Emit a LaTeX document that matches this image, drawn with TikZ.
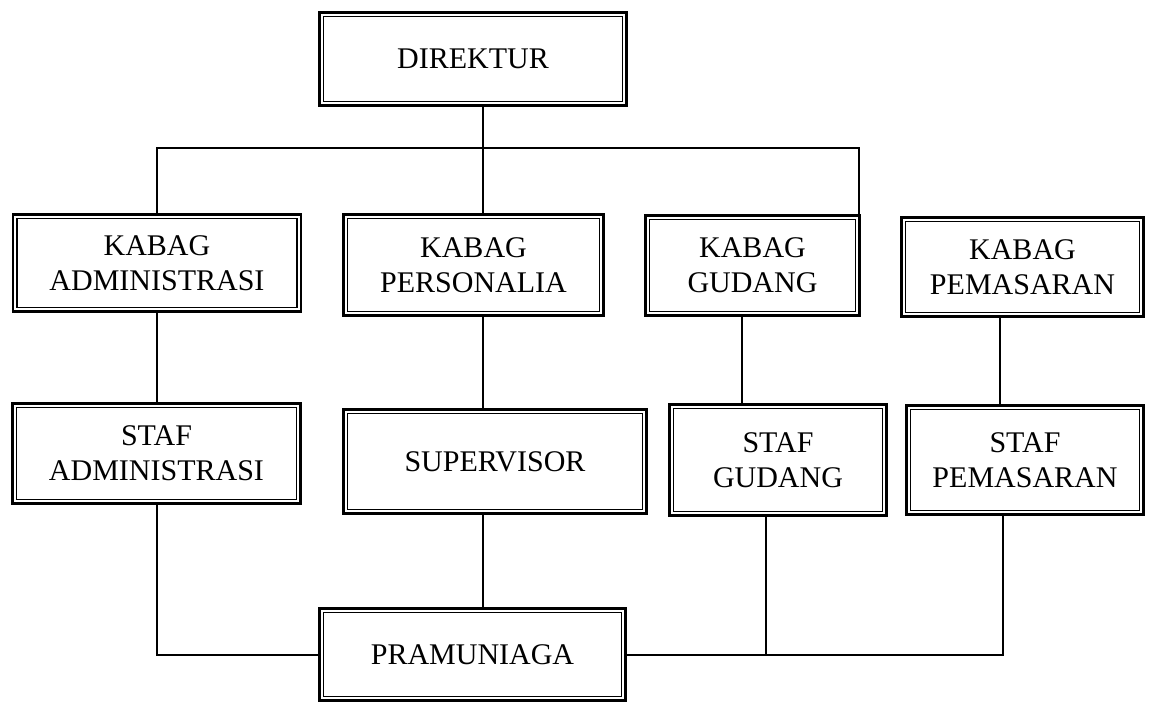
\documentclass[tikz,border=0pt]{standalone}
\usepackage{fontspec}
\setmainfont{Liberation Serif}
\begin{document}
\begin{tikzpicture}[
    x=0.4pt,y=-0.4pt,
    box/.style={draw, line width=1.1pt, inner sep=0pt, align=center,
      font=\fontsize{12}{14}\selectfont},
    link/.style={line width=0.8pt}
    ]
    \useasboundingbox (0, 0) rectangle (1152, 704);
    \node[box, minimum width=122.8pt, minimum height=37.2pt] (dir) at (473, 59) {DIREKTUR};
    \node[box, minimum width=115.2pt, minimum height=38.8pt] (kadm) at (157, 263) {KABAG\\ADMINISTRASI};
    \node[box, minimum width=104pt, minimum height=40.4pt] (kpers) at (473.5, 265) {KABAG\\PERSONALIA};
    \node[box, minimum width=85.6pt, minimum height=40pt] (kgud) at (752.5, 265.5) {KABAG\\GUDANG};
    \node[box, minimum width=96.8pt, minimum height=39.6pt] (kpem) at (1022.5, 267) {KABAG\\PEMASARAN};
    \node[box, minimum width=115.2pt, minimum height=40pt] (sadm) at (156.5, 453.5) {STAF\\ADMINISTRASI};
    \node[box, minimum width=121.2pt, minimum height=41.6pt] (sup) at (495, 461.5) {SUPERVISOR};
    \node[box, minimum width=86.8pt, minimum height=44.4pt] (sgud) at (778, 460) {STAF\\GUDANG};
    \node[box, minimum width=94.8pt, minimum height=43.6pt] (spem) at (1025, 460) {STAF\\PEMASARAN};
    \node[box, minimum width=122.4pt, minimum height=36.8pt] (pram) at (472.5, 654.5) {PRAMUNIAGA};
    \foreach \n in {dir, kadm, kpers, kgud, kpem, sadm, sup, sgud, spem, pram}
      \draw[line width=0.5pt] ([shift={(2.2pt,2.2pt)}]\n.south west) rectangle ([shift={(-2.2pt,-2.2pt)}]\n.north east);
    \coordinate (bus) at (483, 148);
    \draw[link] ([xshift=4pt]dir.south) -- ([xshift=4pt]dir.south |- kpers.north);
    \draw[link] (kadm.north) |- (bus) -| ([xshift=-0.6pt]kgud.north east);
    \draw[link] (kadm.south) -- (kadm.south |- sadm.north);
    \draw[link] ([xshift=3.8pt]kpers.south) -- ([xshift=3.8pt]kpers.south |- sup.north);
    \draw[link] ([xshift=-4.2pt]kgud.south) -- ([xshift=-4.2pt]kgud.south |- sgud.north);
    \draw[link] ([xshift=-9pt]kpem.south) -- ([xshift=-9pt]kpem.south |- spem.north);
    \draw[link] ([xshift=4.2pt]pram.north) -- ([xshift=4.2pt]pram.north |- sup.south);
    \draw[link] (sadm.south) |- (pram.west);
    \draw[link] ([xshift=-4.8pt]sgud.south) |- (pram.east);
    \draw[link] ([xshift=-8.8pt]spem.south) |- (pram.east);
  \end{tikzpicture}
\end{document}
